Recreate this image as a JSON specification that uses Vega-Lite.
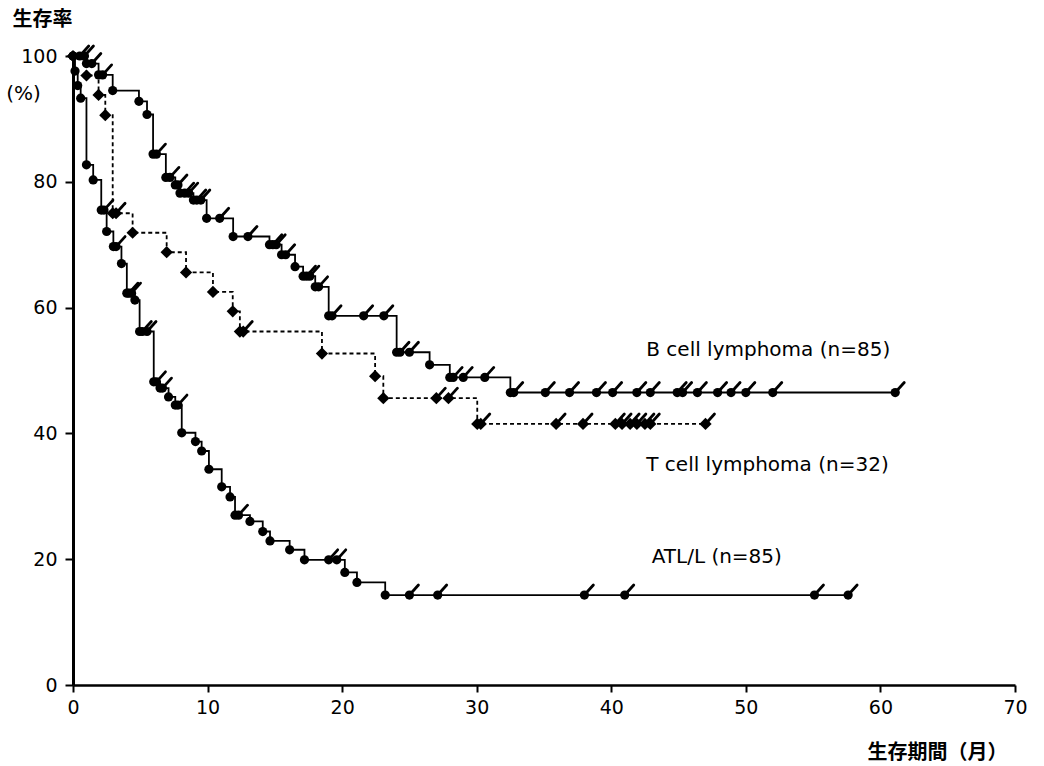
{
  "$schema": "https://vega.github.io/schema/vega-lite/v6.json",
  "autosize": {"type": "none"},
  "padding": {"left": 73, "top": 56, "right": 29, "bottom": 81},
  "width": 942,
  "height": 629,
  "background": "white",
  "config": {
    "view": {"stroke": null},
    "axis": {
      "grid": false,
      "domainColor": "black",
      "tickColor": "black",
      "labelColor": "black",
      "titleColor": "black",
      "labelFont": "DejaVu Sans",
      "labelFontSize": 19,
      "labelFlush": false,
      "labelOverlap": false
    }
  },
  "datasets": {
    "km": [
      {"group": "B", "month": 0, "survival": 100, "kind": "s"},
      {"group": "B", "month": 0.5, "survival": 100, "kind": "c"},
      {"group": "B", "month": 0.85, "survival": 100, "kind": "c"},
      {"group": "B", "month": 1.0, "survival": 98.8, "kind": "e"},
      {"group": "B", "month": 1.4, "survival": 98.8, "kind": "c"},
      {"group": "B", "month": 1.9, "survival": 97.0, "kind": "e"},
      {"group": "B", "month": 2.2, "survival": 97.0, "kind": "c"},
      {"group": "B", "month": 2.95, "survival": 94.5, "kind": "e"},
      {"group": "B", "month": 4.9, "survival": 92.8, "kind": "e"},
      {"group": "B", "month": 5.5, "survival": 90.7, "kind": "e"},
      {"group": "B", "month": 5.95, "survival": 84.4, "kind": "e"},
      {"group": "B", "month": 6.2, "survival": 84.4, "kind": "c"},
      {"group": "B", "month": 6.9, "survival": 80.7, "kind": "e"},
      {"group": "B", "month": 7.2, "survival": 80.7, "kind": "c"},
      {"group": "B", "month": 7.6, "survival": 79.5, "kind": "e"},
      {"group": "B", "month": 7.8, "survival": 79.5, "kind": "c"},
      {"group": "B", "month": 7.95, "survival": 78.2, "kind": "e"},
      {"group": "B", "month": 8.3, "survival": 78.2, "kind": "c"},
      {"group": "B", "month": 8.6, "survival": 78.2, "kind": "c"},
      {"group": "B", "month": 8.95, "survival": 77.1, "kind": "e"},
      {"group": "B", "month": 9.2, "survival": 77.1, "kind": "c"},
      {"group": "B", "month": 9.5, "survival": 77.1, "kind": "c"},
      {"group": "B", "month": 9.93, "survival": 74.2, "kind": "e"},
      {"group": "B", "month": 10.9, "survival": 74.2, "kind": "c"},
      {"group": "B", "month": 11.9, "survival": 71.3, "kind": "e"},
      {"group": "B", "month": 13.0, "survival": 71.3, "kind": "c"},
      {"group": "B", "month": 14.6, "survival": 70.0, "kind": "e"},
      {"group": "B", "month": 14.85, "survival": 70.0, "kind": "c"},
      {"group": "B", "month": 15.1, "survival": 70.0, "kind": "c"},
      {"group": "B", "month": 15.5, "survival": 68.4, "kind": "e"},
      {"group": "B", "month": 15.8, "survival": 68.4, "kind": "c"},
      {"group": "B", "month": 16.5, "survival": 66.5, "kind": "e"},
      {"group": "B", "month": 17.1, "survival": 65.0, "kind": "e"},
      {"group": "B", "month": 17.35, "survival": 65.0, "kind": "c"},
      {"group": "B", "month": 17.6, "survival": 65.0, "kind": "c"},
      {"group": "B", "month": 18.0, "survival": 63.3, "kind": "e"},
      {"group": "B", "month": 18.25, "survival": 63.3, "kind": "c"},
      {"group": "B", "month": 19.0, "survival": 58.7, "kind": "e"},
      {"group": "B", "month": 19.25, "survival": 58.7, "kind": "c"},
      {"group": "B", "month": 21.6, "survival": 58.7, "kind": "c"},
      {"group": "B", "month": 23.1, "survival": 58.7, "kind": "c"},
      {"group": "B", "month": 24.05, "survival": 52.9, "kind": "e"},
      {"group": "B", "month": 24.3, "survival": 52.9, "kind": "c"},
      {"group": "B", "month": 25.0, "survival": 52.9, "kind": "c"},
      {"group": "B", "month": 26.5, "survival": 50.9, "kind": "e"},
      {"group": "B", "month": 28.0, "survival": 48.9, "kind": "e"},
      {"group": "B", "month": 28.25, "survival": 48.9, "kind": "c"},
      {"group": "B", "month": 29.0, "survival": 48.9, "kind": "c"},
      {"group": "B", "month": 30.6, "survival": 48.9, "kind": "c"},
      {"group": "B", "month": 32.5, "survival": 46.5, "kind": "e"},
      {"group": "B", "month": 32.75, "survival": 46.5, "kind": "c"},
      {"group": "B", "month": 35.1, "survival": 46.5, "kind": "c"},
      {"group": "B", "month": 36.9, "survival": 46.5, "kind": "c"},
      {"group": "B", "month": 38.9, "survival": 46.5, "kind": "c"},
      {"group": "B", "month": 40.1, "survival": 46.5, "kind": "c"},
      {"group": "B", "month": 41.9, "survival": 46.5, "kind": "c"},
      {"group": "B", "month": 42.9, "survival": 46.5, "kind": "c"},
      {"group": "B", "month": 44.9, "survival": 46.5, "kind": "c"},
      {"group": "B", "month": 45.3, "survival": 46.5, "kind": "c"},
      {"group": "B", "month": 46.4, "survival": 46.5, "kind": "c"},
      {"group": "B", "month": 47.9, "survival": 46.5, "kind": "c"},
      {"group": "B", "month": 48.9, "survival": 46.5, "kind": "c"},
      {"group": "B", "month": 50.0, "survival": 46.5, "kind": "c"},
      {"group": "B", "month": 52.0, "survival": 46.5, "kind": "c"},
      {"group": "B", "month": 61.1, "survival": 46.5, "kind": "c"},

      {"group": "T", "month": 0, "survival": 100, "kind": "s"},
      {"group": "T", "month": 1.0, "survival": 96.9, "kind": "e"},
      {"group": "T", "month": 1.9, "survival": 93.8, "kind": "e"},
      {"group": "T", "month": 2.4, "survival": 90.6, "kind": "e"},
      {"group": "T", "month": 2.95, "survival": 75.0, "kind": "e"},
      {"group": "T", "month": 3.2, "survival": 75.0, "kind": "c"},
      {"group": "T", "month": 4.43, "survival": 71.9, "kind": "e"},
      {"group": "T", "month": 6.96, "survival": 68.8, "kind": "e"},
      {"group": "T", "month": 8.4, "survival": 65.6, "kind": "e"},
      {"group": "T", "month": 10.4, "survival": 62.5, "kind": "e"},
      {"group": "T", "month": 11.87, "survival": 59.4, "kind": "e"},
      {"group": "T", "month": 12.4, "survival": 56.2, "kind": "e"},
      {"group": "T", "month": 12.65, "survival": 56.2, "kind": "c"},
      {"group": "T", "month": 18.5, "survival": 52.7, "kind": "e"},
      {"group": "T", "month": 22.45, "survival": 49.1, "kind": "e"},
      {"group": "T", "month": 23.06, "survival": 45.6, "kind": "e"},
      {"group": "T", "month": 27.0, "survival": 45.6, "kind": "c"},
      {"group": "T", "month": 27.9, "survival": 45.6, "kind": "c"},
      {"group": "T", "month": 30.04, "survival": 41.5, "kind": "e"},
      {"group": "T", "month": 30.3, "survival": 41.5, "kind": "c"},
      {"group": "T", "month": 35.9, "survival": 41.5, "kind": "c"},
      {"group": "T", "month": 37.9, "survival": 41.5, "kind": "c"},
      {"group": "T", "month": 40.3, "survival": 41.5, "kind": "c"},
      {"group": "T", "month": 40.8, "survival": 41.5, "kind": "c"},
      {"group": "T", "month": 41.4, "survival": 41.5, "kind": "c"},
      {"group": "T", "month": 41.9, "survival": 41.5, "kind": "c"},
      {"group": "T", "month": 42.5, "survival": 41.5, "kind": "c"},
      {"group": "T", "month": 42.9, "survival": 41.5, "kind": "c"},
      {"group": "T", "month": 47.0, "survival": 41.5, "kind": "c"},

      {"group": "ATL", "month": 0, "survival": 100, "kind": "s"},
      {"group": "ATL", "month": 0.15, "survival": 97.6, "kind": "e"},
      {"group": "ATL", "month": 0.35, "survival": 95.3, "kind": "e"},
      {"group": "ATL", "month": 0.57, "survival": 93.3, "kind": "e"},
      {"group": "ATL", "month": 1.0, "survival": 82.7, "kind": "e"},
      {"group": "ATL", "month": 1.5, "survival": 80.3, "kind": "e"},
      {"group": "ATL", "month": 2.1, "survival": 75.5, "kind": "e"},
      {"group": "ATL", "month": 2.3, "survival": 75.5, "kind": "c"},
      {"group": "ATL", "month": 2.5, "survival": 72.1, "kind": "e"},
      {"group": "ATL", "month": 3.0, "survival": 69.7, "kind": "e"},
      {"group": "ATL", "month": 3.2, "survival": 69.7, "kind": "c"},
      {"group": "ATL", "month": 3.6, "survival": 67.0, "kind": "e"},
      {"group": "ATL", "month": 4.0, "survival": 62.3, "kind": "e"},
      {"group": "ATL", "month": 4.15, "survival": 62.3, "kind": "c"},
      {"group": "ATL", "month": 4.35, "survival": 62.3, "kind": "c"},
      {"group": "ATL", "month": 4.6, "survival": 61.2, "kind": "e"},
      {"group": "ATL", "month": 4.95, "survival": 56.2, "kind": "e"},
      {"group": "ATL", "month": 5.15, "survival": 56.2, "kind": "c"},
      {"group": "ATL", "month": 5.5, "survival": 56.2, "kind": "c"},
      {"group": "ATL", "month": 6.0, "survival": 48.2, "kind": "e"},
      {"group": "ATL", "month": 6.2, "survival": 48.2, "kind": "c"},
      {"group": "ATL", "month": 6.47, "survival": 47.2, "kind": "e"},
      {"group": "ATL", "month": 6.65, "survival": 47.2, "kind": "c"},
      {"group": "ATL", "month": 7.1, "survival": 45.8, "kind": "e"},
      {"group": "ATL", "month": 7.6, "survival": 44.5, "kind": "e"},
      {"group": "ATL", "month": 7.8, "survival": 44.5, "kind": "c"},
      {"group": "ATL", "month": 8.08, "survival": 40.1, "kind": "e"},
      {"group": "ATL", "month": 9.1, "survival": 38.7, "kind": "e"},
      {"group": "ATL", "month": 9.56, "survival": 37.2, "kind": "e"},
      {"group": "ATL", "month": 10.1, "survival": 34.3, "kind": "e"},
      {"group": "ATL", "month": 11.05, "survival": 31.5, "kind": "e"},
      {"group": "ATL", "month": 11.67, "survival": 29.9, "kind": "e"},
      {"group": "ATL", "month": 12.04, "survival": 27.0, "kind": "e"},
      {"group": "ATL", "month": 12.3, "survival": 27.0, "kind": "c"},
      {"group": "ATL", "month": 13.15, "survival": 26.0, "kind": "e"},
      {"group": "ATL", "month": 14.1, "survival": 24.4, "kind": "e"},
      {"group": "ATL", "month": 14.64, "survival": 22.9, "kind": "e"},
      {"group": "ATL", "month": 16.1, "survival": 21.5, "kind": "e"},
      {"group": "ATL", "month": 17.2, "survival": 19.9, "kind": "e"},
      {"group": "ATL", "month": 19.0, "survival": 19.9, "kind": "c"},
      {"group": "ATL", "month": 19.6, "survival": 19.9, "kind": "c"},
      {"group": "ATL", "month": 20.2, "survival": 17.9, "kind": "e"},
      {"group": "ATL", "month": 21.1, "survival": 16.3, "kind": "e"},
      {"group": "ATL", "month": 23.2, "survival": 14.3, "kind": "e"},
      {"group": "ATL", "month": 25.0, "survival": 14.3, "kind": "c"},
      {"group": "ATL", "month": 27.1, "survival": 14.3, "kind": "c"},
      {"group": "ATL", "month": 38.0, "survival": 14.3, "kind": "c"},
      {"group": "ATL", "month": 41.0, "survival": 14.3, "kind": "c"},
      {"group": "ATL", "month": 55.1, "survival": 14.3, "kind": "c"},
      {"group": "ATL", "month": 57.6, "survival": 14.3, "kind": "c"}
    ],
    "notes": [
      {"month": 42.6, "survival": 53.3, "label": "B cell lymphoma (n=85)"},
      {"month": 42.6, "survival": 35.0, "label": "T cell lymphoma (n=32)"},
      {"month": 43.0, "survival": 20.35, "label": "ATL/L (n=85)"},
      {"month": -4.96, "survival": 94.0, "label": "(%)"}
    ]
  },
  "layer": [
    {
      "data": {"name": "km"},
      "mark": {"type": "line", "interpolate": "step-after", "color": "black", "strokeWidth": 1.8},
      "encoding": {
        "x": {
          "field": "month", "type": "quantitative",
          "scale": {"domain": [0, 70], "nice": false},
          "axis": {
            "values": [0, 10, 20, 30, 40, 50, 60, 70],
            "domainWidth": 2.5, "tickWidth": 2, "tickSize": 7, "labelPadding": 6,
            "title": "生存期間（月）",
            "titleFont": "Noto Sans CJK JP", "titleFontWeight": "bold", "titleFontSize": 20,
            "titleAlign": "right", "titleBaseline": "middle", "titleAnchor": null,
            "titleX": 934, "titleY": 67
          }
        },
        "y": {
          "field": "survival", "type": "quantitative",
          "scale": {"domain": [0, 100], "nice": false},
          "axis": {
            "values": [0, 20, 40, 60, 80, 100],
            "domainWidth": 3, "tickWidth": 2, "tickSize": 8, "labelPadding": 8,
            "title": "生存率",
            "titleFont": "Noto Sans CJK JP", "titleFontWeight": "bold", "titleFontSize": 20,
            "titleAngle": 0, "titleAlign": "left", "titleBaseline": "middle", "titleAnchor": null,
            "titleX": -61, "titleY": -37
          }
        },
        "detail": {"field": "group"},
        "strokeDash": {
          "field": "group", "type": "nominal",
          "scale": {"domain": ["B", "T", "ATL"], "range": [[1, 0], [4, 3], [1, 0]]},
          "legend": null
        }
      }
    },
    {
      "data": {"name": "km"},
      "transform": [{"filter": "datum.group !== 'T'"}],
      "mark": {"type": "point", "shape": "circle", "filled": true, "color": "black", "opacity": 1, "size": 85},
      "encoding": {
        "x": {"field": "month", "type": "quantitative"},
        "y": {"field": "survival", "type": "quantitative"}
      }
    },
    {
      "data": {"name": "km"},
      "transform": [{"filter": "datum.group === 'T'"}],
      "mark": {"type": "point", "shape": "diamond", "filled": true, "color": "black", "opacity": 1, "size": 150},
      "encoding": {
        "x": {"field": "month", "type": "quantitative"},
        "y": {"field": "survival", "type": "quantitative"}
      }
    },
    {
      "data": {"name": "km"},
      "transform": [{"filter": "datum.kind === 'c'"}],
      "mark": {
        "type": "point", "shape": "M0,0L0.9,-1", "filled": false,
        "color": "black", "strokeWidth": 2.8, "strokeCap": "round", "size": 400, "opacity": 1
      },
      "encoding": {
        "x": {"field": "month", "type": "quantitative"},
        "y": {"field": "survival", "type": "quantitative"}
      }
    },
    {
      "data": {"name": "notes"},
      "mark": {"type": "text", "align": "left", "baseline": "middle", "font": "DejaVu Sans", "fontSize": 20, "color": "black"},
      "encoding": {
        "x": {"field": "month", "type": "quantitative"},
        "y": {"field": "survival", "type": "quantitative"},
        "text": {"field": "label"}
      }
    }
  ]
}
